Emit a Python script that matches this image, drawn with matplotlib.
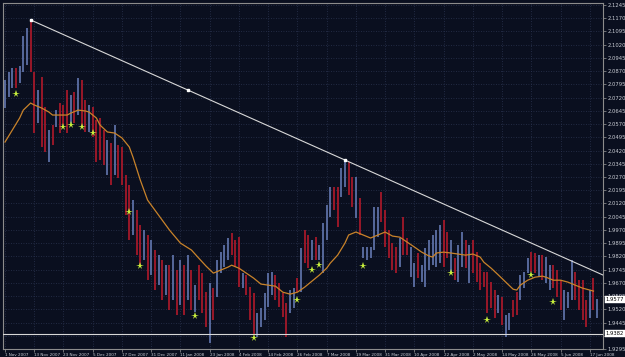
import matplotlib
matplotlib.use('Agg')
import matplotlib.pyplot as plt
from matplotlib.transforms import blended_transform_factory, ScaledTranslation

# ---- data (daily bars) ----
highs = [2.0819,2.0865,2.0887,2.0887,2.0899,2.1069,2.1114,2.1160,2.0865,2.0763,
2.0836,2.0666,2.0536,2.0564,2.0649,2.0689,2.0678,2.0763,2.0734,2.0751,
2.0831,2.0819,2.0706,2.0678,2.0666,2.0593,2.0604,2.0536,2.0479,2.0462,
2.0564,2.0451,2.0440,2.0281,2.0224,2.0139,2.0082,1.9997,1.9969,1.9941,
1.9912,1.9856,1.9827,1.9799,1.9770,1.9770,1.9827,1.9742,1.9799,1.9770,
1.9827,1.9742,1.9657,1.9770,1.9725,1.9617,1.9668,1.9640,1.9799,1.9844,
1.9884,1.9924,1.9952,1.9912,1.9929,1.9725,1.9714,1.9646,1.9612,1.9498,
1.9527,1.9612,1.9725,1.9731,1.9714,1.9668,1.9612,1.9555,1.9629,1.9640,
1.9697,1.9867,1.9969,1.9941,1.9912,1.9929,1.9884,2.0009,2.0111,2.0213,
2.0213,2.0213,2.0320,2.0366,2.0355,2.0269,2.0269,2.0150,1.9873,1.9873,
1.9873,2.0099,2.0099,2.0184,2.0082,1.9969,1.9895,1.9873,1.9924,2.0043,
1.9924,1.9873,1.9782,1.9839,1.9770,1.9867,1.9912,1.9941,1.9969,1.9997,
2.0026,1.9958,1.9912,1.9810,1.9884,1.9958,1.9912,1.9884,1.9912,1.9844,
1.9782,1.9731,1.9731,1.9674,1.9629,1.9600,1.9589,1.9487,1.9498,1.9572,
1.9617,1.9714,1.9731,1.9810,1.9844,1.9839,1.9827,1.9827,1.9816,1.9770,
1.9770,1.9742,1.9685,1.9629,1.9617,1.9799,1.9731,1.9685,1.9685,1.9572,
1.9629,1.9697,1.9580]

lows = [2.0661,2.0723,2.0774,2.0774,2.0802,2.0865,2.0904,2.0865,2.0519,2.0576,
2.0440,2.0411,2.0355,2.0451,2.0553,2.0519,2.0564,2.0519,2.0576,2.0576,
2.0621,2.0553,2.0525,2.0525,2.0496,2.0355,2.0366,2.0337,2.0281,2.0224,
2.0281,2.0264,2.0224,2.0054,1.9912,1.9941,1.9827,1.9770,1.9799,1.9685,
1.9714,1.9629,1.9657,1.9572,1.9600,1.9515,1.9572,1.9487,1.9544,1.9487,
1.9572,1.9515,1.9504,1.9572,1.9498,1.9419,1.9328,1.9459,1.9589,1.9725,
1.9759,1.9799,1.9827,1.9759,1.9646,1.9640,1.9600,1.9459,1.9374,1.9362,
1.9419,1.9459,1.9532,1.9600,1.9572,1.9532,1.9476,1.9362,1.9498,1.9527,
1.9617,1.9617,1.9782,1.9753,1.9799,1.9799,1.9799,1.9725,1.9912,2.0043,
2.0082,1.9986,2.0156,2.0213,2.0167,2.0099,2.0037,1.9941,1.9810,1.9799,
1.9810,1.9856,1.9929,2.0014,1.9873,1.9810,1.9742,1.9725,1.9759,1.9827,
1.9827,1.9702,1.9646,1.9697,1.9674,1.9646,1.9742,1.9770,1.9759,1.9782,
1.9759,1.9810,1.9731,1.9685,1.9674,1.9759,1.9753,1.9668,1.9725,1.9674,
1.9629,1.9646,1.9498,1.9527,1.9470,1.9498,1.9430,1.9362,1.9402,1.9476,
1.9487,1.9572,1.9640,1.9725,1.9731,1.9725,1.9702,1.9685,1.9668,1.9629,
1.9640,1.9589,1.9515,1.9459,1.9527,1.9572,1.9572,1.9515,1.9459,1.9419,
1.9470,1.9515,1.9470]

# u = bull bar, d = bear bar
direction = ("uuuduuuddu" "ddududddud" "udduddddud" "udddduddud" "ududududud"
             "ududdduduu" "uudddudddu" "uuuudddduu" "dudduduuuu" "dduudduduu"
             "uuudddddud" "duuduuuuuu" "dduduududd" "ddddduduud" "duuudduduu"
             "ddduuudddd" "udu")

ma_idx = [0,2,4,5,7,8,10,12,13,15,17,18,20,22,23,25,26,28,30,32,34,35,37,39,42,45,48,
          51,53,55,57,59,61,62,64,66,68,70,72,74,76,78,80,82,84,86,88,89,91,93,94,96,98,
          100,102,104,106,108,110,112,114,116,117,118,120,122,124,126,128,130,131,133,
          135,137,139,140,141,143,145,147,148,150,152,154,156,158,160,161]
ma_val = [2.0468,2.0536,2.0604,2.0649,2.0689,2.0678,2.0661,2.0638,2.0621,2.0621,2.0621,
          2.0632,2.0649,2.0644,2.0638,2.0604,2.0564,2.0525,2.0519,2.0491,2.0440,2.0383,
          2.0253,2.0139,2.0054,1.9969,1.9895,1.9856,1.9810,1.9765,1.9725,1.9742,1.9759,
          1.9770,1.9753,1.9725,1.9697,1.9663,1.9657,1.9651,1.9617,1.9606,1.9617,1.9646,
          1.9680,1.9714,1.9753,1.9782,1.9827,1.9895,1.9941,1.9958,1.9941,1.9924,1.9941,
          1.9958,1.9935,1.9929,1.9901,1.9873,1.9844,1.9822,1.9816,1.9839,1.9844,1.9839,
          1.9833,1.9827,1.9833,1.9816,1.9787,1.9753,1.9714,1.9674,1.9634,1.9629,1.9657,
          1.9685,1.9702,1.9708,1.9702,1.9685,1.9685,1.9674,1.9657,1.9640,1.9629,1.9623]

star_idx = [3,16,18,21,24,34,37,52,68,80,84,86,98,122,132,144,150]
star_val = [2.0740,2.0553,2.0564,2.0553,2.0519,2.0071,1.9765,1.9481,1.9357,1.9572,
            1.9742,1.9770,1.9765,1.9725,1.9459,1.9714,1.9561]

trend_idx = [7, 93]
trend_val = [2.1160, 2.0366]
support_level = 1.9382
last_price = 1.9577

date_idx = [0,8,16,24,32,40,48,56,64,72,80,88,96,104,112,120,128,136,144,152,160]
date_labels = ["1 Nov 2007","13 Nov 2007","23 Nov 2007","5 Dec 2007","17 Dec 2007",
               "31 Dec 2007","11 Jan 2008","23 Jan 2008","4 Feb 2008","14 Feb 2008",
               "26 Feb 2008","7 Mar 2008","19 Mar 2008","31 Mar 2008","10 Apr 2008",
               "22 Apr 2008","2 May 2008","14 May 2008","26 May 2008","5 Jun 2008",
               "17 Jun 2008"]
price_ticks = [1.9295,1.9370,1.9445,1.9520,1.9595,1.9670,1.9745,1.9820,1.9895,1.9970,
               2.0045,2.0120,2.0195,2.0270,2.0345,2.0420,2.0495,2.0570,2.0645,2.0720,
               2.0795,2.0870,2.0945,2.1020,2.1095,2.1170,2.1245]
hidden_ticks = [1.9370]   # covered by the support price box in the reference

# ---- styling ----
BG = '#0a0f1f'
UP = '#5d70a6'
DOWN = '#a5182a'
GRID = '#2a3350'
TXT = '#c9ccd4'

fig = plt.figure(figsize=(6.25, 3.57), dpi=100, facecolor=BG)
ax = fig.add_axes([3/625, 8/357, 600/625, 346/357], facecolor=BG)

x = list(range(len(highs)))
cols = [UP if c == 'u' else DOWN for c in direction]
ax.vlines(x, lows, highs, colors=cols, linewidth=1.3, zorder=3)

ax.plot(ma_idx, ma_val, color='#c9832a', linewidth=0.9, zorder=4)

# trend line (ray) through two highs
xr = 163.6
slope = (trend_val[1] - trend_val[0]) / (trend_idx[1] - trend_idx[0])
ax.plot([trend_idx[0], xr], [trend_val[0], trend_val[1] + slope * (xr - trend_idx[1])],
        color='#d8d8d8', linewidth=0.8, zorder=5)
mid_i = (trend_idx[0] + trend_idx[1]) / 2
mid_v = (trend_val[0] + trend_val[1]) / 2
ax.plot([trend_idx[0], mid_i, trend_idx[1]], [trend_val[0], mid_v, trend_val[1]], 's',
        color='white', markersize=2, zorder=6)

ax.axhline(support_level, color='#d8d8d8', linewidth=0.8, zorder=5)

ax.plot(star_idx, star_val, '*', color='#c8f03c', markersize=5.5, markeredgewidth=0, zorder=7)

ax.set_xlim(-0.55, 163.6)
ax.set_ylim(1.9295, 2.1256)

ax.yaxis.tick_right()
ax.set_yticks(price_ticks)
ax.set_yticklabels(['' if v in hidden_ticks else '%.4f' % v for v in price_ticks],
                   fontsize=3.8, color=TXT)
ax.set_xticks(date_idx)
ax.set_xticklabels(date_labels, fontsize=3.0, color=TXT, ha='left')
offset = ScaledTranslation(1.5/100, 0, fig.dpi_scale_trans)
for lab in ax.get_xticklabels():
    lab.set_transform(lab.get_transform() + offset)
ax.tick_params(axis='both', colors='#9a9a9a', length=2, width=0.5, pad=1)
ax.tick_params(axis='x', labelcolor=TXT)
ax.tick_params(axis='y', labelcolor=TXT)
ax.grid(True, color=GRID, linestyle=(0, (1, 2)), linewidth=0.6, zorder=0)
for s in ax.spines.values():
    s.set_color('#8c8c8c')
    s.set_linewidth(0.8)

tr = blended_transform_factory(ax.transAxes, ax.transData)
for v in (last_price, support_level):
    ax.text(1.004, v, '%.4f' % v, transform=tr, fontsize=3.8, color='black',
            va='center', ha='left', zorder=10, clip_on=False,
            bbox=dict(boxstyle='square,pad=0.15', fc='white', ec='white', lw=0.3))

fig.savefig('out.png', dpi=100, facecolor=BG)
